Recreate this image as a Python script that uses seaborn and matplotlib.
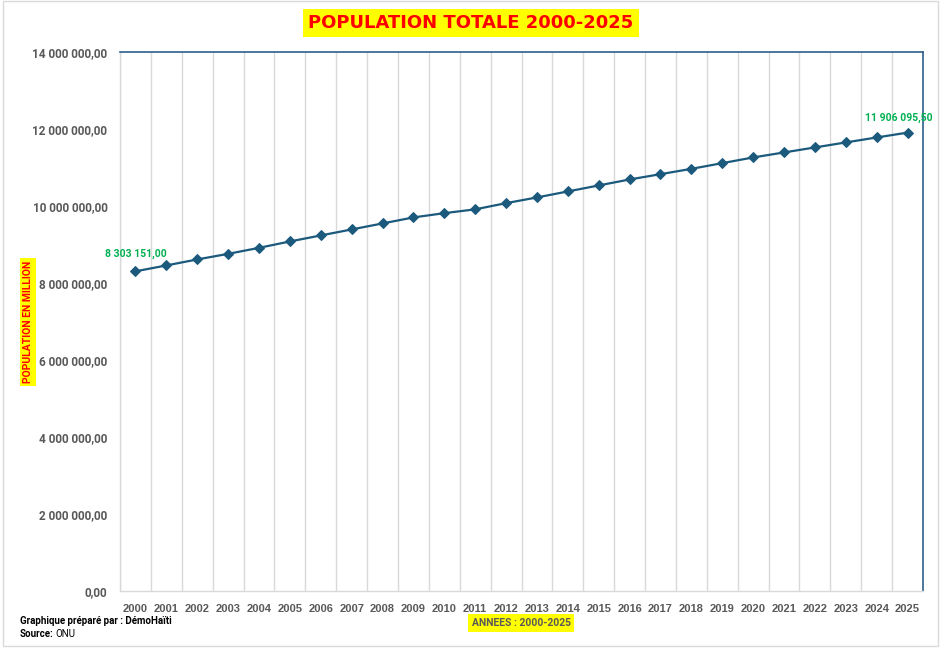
import matplotlib
matplotlib.use("Agg")
import matplotlib.pyplot as plt
import seaborn as sns
import pandas as pd
import numpy as np
from matplotlib.ticker import FuncFormatter, FixedLocator
from matplotlib.patches import Rectangle

years = list(range(2000, 2026))
population = [8303151.00, 8456000, 8612000, 8757000, 8913000, 9079000, 9235000,
              9391000, 9547000, 9703000, 9814000, 9913000, 10074000, 10222000,
              10378000, 10534000, 10689000, 10827000, 10965000, 11113000,
              11261000, 11391000, 11521000, 11651000, 11780000, 11906095.50]
y_ticks = [0, 2000000, 4000000, 6000000, 8000000, 10000000, 12000000, 14000000]

title_text = "POPULATION TOTALE 2000-2025"
ylabel_text = "POPULATION EN MILLION"
xlabel_text = "ANNEES : 2000-2025"

df = pd.DataFrame({"year": years, "pop": population})

sns.set_style("white")
plt.rcParams['font.family'] = ['Roboto', 'DejaVu Sans']

fig = plt.figure(figsize=(9.43, 6.48), dpi=100)
ax = fig.add_axes([120/943, 1-591/648, (923-120)/943, (591-52)/648])

line_col = "#1B5A7D"
sns.lineplot(data=df, x="year", y="pop", ax=ax, color=line_col, linewidth=1.6,
             marker="D", markersize=5, markeredgecolor=line_col, markerfacecolor=line_col)

ax.set_xlim(1999.5, 2025.5)
ax.set_ylim(0, 14000000)
ax.set_xticks(years)
ax.xaxis.set_minor_locator(FixedLocator([y + 0.5 for y in range(1999, 2025)]))
ax.grid(which="major", axis="both", visible=False)
ax.grid(which="minor", axis="x", visible=True, color="#D9D9D9", linewidth=1)
ax.set_yticks(y_ticks)

def fmt(v, pos=None):
    s = f"{v:,.2f}"
    return s.replace(",", " ").replace(".", ",")

ax.yaxis.set_major_formatter(FuncFormatter(fmt))
ax.tick_params(axis="both", which="both", length=0)
ax.tick_params(axis="y", pad=9, labelsize=8.5, labelcolor="#595959")
ax.tick_params(axis="x", pad=9, labelsize=8, labelcolor="#595959")
for lab in ax.get_yticklabels():
    lab.set_fontweight("bold")
for lab in ax.get_xticklabels():
    lab.set_fontweight("bold")
    lab.set_fontfamily(["Liberation Sans", "DejaVu Sans"])
ax.set_xlabel("")
ax.set_ylabel("")

for side in ["left", "bottom"]:
    ax.spines[side].set_color("#D9D9D9")
    ax.spines[side].set_linewidth(1)
for side in ["top", "right"]:
    ax.spines[side].set_color("#2E5F8A")
    ax.spines[side].set_linewidth(1.2)

# annotations
ax.annotate(fmt(population[0]), (years[0], population[0]), xytext=(0, 9),
            textcoords="offset points", ha="center", va="bottom",
            color="#00B050", fontsize=7.5, fontweight="bold")
ax.annotate(fmt(population[-1]), (years[-1], population[-1]), xytext=(-6, 7),
            textcoords="offset points", ha="center", va="bottom",
            color="#00B050", fontsize=7.5, fontweight="bold")

# title
fig.text(471/943, 1-23/648, title_text, ha="center", va="center", color="#FF0000",
         fontsize=13, fontweight="bold", family=["DejaVu Sans"],
         bbox=dict(boxstyle="square,pad=0.3", facecolor="#FFFF00", edgecolor="none"))
# y label
fig.text(28/943, 1-322/648, ylabel_text, ha="center", va="center", rotation=90,
         color="#FF0000", fontsize=7.5, fontweight="bold",
         bbox=dict(boxstyle="square,pad=0.3", facecolor="#FFFF00", edgecolor="none"))
# x label
fig.text(521/943, 1-623/648, xlabel_text, ha="center", va="center",
         color="#595959", fontsize=7.5, fontweight="bold",
         bbox=dict(boxstyle="square,pad=0.35", facecolor="#FFFF00", edgecolor="none"))
# footer
fig.text(20/943, 1-621/648, "Graphique préparé par : DémoHaïti", ha="left", va="center",
         color="black", fontsize=7, fontweight="bold")
src = fig.text(20/943, 1-634/648, "Source:", ha="left", va="center",
               color="black", fontsize=7, fontweight="bold")
fig.canvas.draw()
bb = src.get_window_extent()
fig.text((bb.x1 + 2) / 943, 1-634/648, "ONU", ha="left", va="center",
         color="black", fontsize=7)

# outer frame
fig.patches.append(Rectangle((3/943, 2/648), 935/943, 645/648, transform=fig.transFigure,
                             fill=False, edgecolor="#D9D9D9", linewidth=1))

fig.savefig("out.png", dpi=100)
